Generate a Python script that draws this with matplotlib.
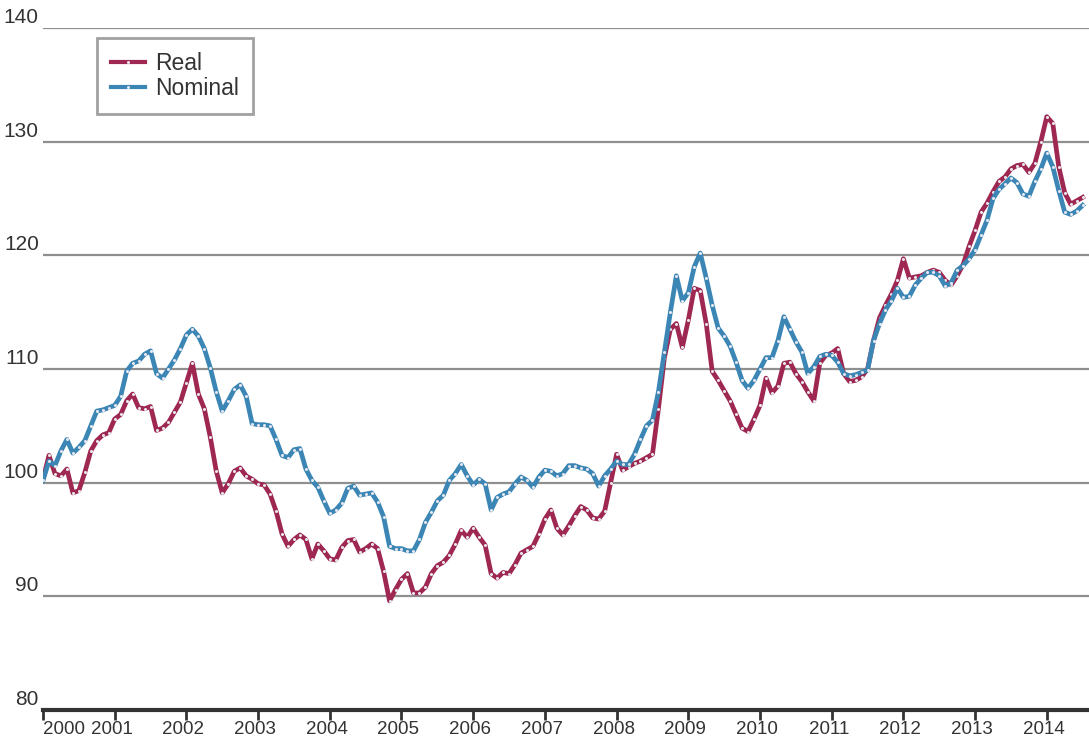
import numpy as np
import matplotlib
matplotlib.use("Agg")
import matplotlib.pyplot as plt
import matplotlib.transforms as mtransforms

plt.rcParams["font.family"] = ["Liberation Sans", "DejaVu Sans"]

# monthly index values, Jan 2000 .. Jul 2014
real = [
    100.3, 102.4, 100.8, 100.6, 101.2, 99.1, 99.3, 100.9, 102.8, 103.7,
    104.2, 104.4, 105.6, 106.0, 107.2, 107.8, 106.6, 106.5, 106.7, 104.6,
    104.8, 105.3, 106.2, 107.1, 108.8, 110.5, 107.8, 106.5, 104.0, 101.0,
    99.1, 99.9, 101.0, 101.3, 100.6, 100.3, 99.9, 99.8, 99.0, 97.5,
    95.5, 94.4, 95.0, 95.4, 95.0, 93.3, 94.6, 94.0, 93.3, 93.2,
    94.3, 94.9, 95.0, 93.9, 94.2, 94.6, 94.2, 92.2, 89.6, 90.6,
    91.5, 92.0, 90.3, 90.3, 90.8, 92.0, 92.7, 93.0, 93.6, 94.6,
    95.8, 95.2, 96.0, 95.2, 94.5, 92.0, 91.6, 92.1, 92.0, 92.8,
    93.8, 94.1, 94.4, 95.5, 96.8, 97.6, 96.0, 95.4, 96.2, 97.1,
    97.9, 97.6, 96.9, 96.8, 97.5, 100.0, 102.5, 101.1, 101.4, 101.7,
    101.9, 102.2, 102.5, 106.5, 111.0, 113.5, 114.0, 111.9, 114.3, 117.1,
    116.9, 114.0, 109.8, 109.0, 108.1, 107.2, 106.0, 104.8, 104.5, 105.6,
    106.8, 109.2, 107.9, 108.5, 110.5, 110.6, 109.6, 108.9, 108.0, 107.2,
    110.5, 111.2, 111.4, 111.8, 109.6, 108.9, 109.0, 109.3, 110.0, 112.5,
    114.5, 115.6, 116.6, 117.8, 119.7, 118.0, 118.1, 118.2, 118.5, 118.7,
    118.5, 117.8, 117.4, 118.2, 119.2, 120.8, 122.2, 123.8, 124.6, 125.6,
    126.5, 126.9, 127.6, 127.9, 128.0, 127.3, 128.1, 130.0, 132.2, 131.6,
    127.8, 125.5, 124.5, 124.8, 125.1,
]
nominal = [
    100.2, 101.9, 101.5, 102.8, 103.8, 102.6, 103.1, 103.7, 105.0, 106.3,
    106.4, 106.6, 106.8, 107.6, 109.8, 110.5, 110.7, 111.3, 111.6, 109.6,
    109.2, 110.0, 110.8, 111.8, 113.0, 113.5, 112.9, 111.8, 110.1, 108.0,
    106.3, 107.2, 108.2, 108.6, 107.6, 105.2, 105.1, 105.1, 105.0, 103.8,
    102.4, 102.2, 102.9, 103.0, 101.2, 100.2, 99.6, 98.4, 97.3, 97.6,
    98.2, 99.5, 99.7, 98.9, 99.0, 99.1, 98.3, 97.0, 94.4, 94.2,
    94.2, 94.0, 94.0, 95.0, 96.5, 97.4, 98.4, 98.9, 100.2, 100.8,
    101.6, 100.6, 99.8, 100.3, 99.9, 97.6, 98.7, 99.0, 99.2, 99.9,
    100.5, 100.2, 99.6, 100.5, 101.1, 101.0, 100.6, 100.8, 101.5, 101.5,
    101.3, 101.2, 100.8, 99.7, 100.6, 101.2, 101.9, 101.6, 101.6, 102.5,
    103.8, 105.0, 105.5, 108.0, 111.5, 115.0, 118.2, 116.0, 116.7, 119.0,
    120.2, 118.0, 115.6, 113.6, 112.9, 112.0, 110.6, 109.0, 108.3, 109.0,
    110.0, 111.0, 111.0, 112.5, 114.6, 113.5, 112.4, 111.5, 109.6, 110.2,
    111.1, 111.3, 111.2, 110.6, 109.6, 109.4, 109.5, 109.7, 109.9, 112.5,
    114.0, 115.2, 116.0, 117.1, 116.3, 116.4, 117.4, 118.0, 118.5, 118.5,
    118.2, 117.3, 117.6, 118.7, 119.1, 119.7, 120.5, 121.8, 123.1, 125.0,
    125.8, 126.3, 126.8, 126.4, 125.4, 125.2, 126.5, 127.6, 129.0, 127.8,
    125.7, 123.8, 123.6, 123.9, 124.4,
]
years = list(range(2000, 2015))
yticks = [80, 90, 100, 110, 120, 130, 140]

REAL_COLOR = "#9E2851"
NOM_COLOR = "#3C86B6"
TEXT = "#333333"

t = 2000 + np.arange(len(real)) / 12.0

fig = plt.figure(figsize=(10.89, 7.40), dpi=100)
ax = fig.add_axes([43 / 1089, 1 - 710 / 740, 1 - 43 / 1089, 682 / 740])

for v in yticks[1:]:
    ax.axhline(v, color="#8f8f8f", lw=1.6, zorder=1)

style = dict(lw=3.4, marker="o", markersize=2.2, markerfacecolor="#e6e6ee",
             markeredgecolor="none", zorder=3)
ax.plot(t, real, color=REAL_COLOR, label="Real", **style)
ax.plot(t, nominal, color=NOM_COLOR, label="Nominal", **style)

ax.set_xlim(2000, 2000 + 1046 / 71.7)
ax.set_ylim(80, 140)

for s in ["top", "right", "left"]:
    ax.spines[s].set_visible(False)
ax.spines["bottom"].set_color(TEXT)
ax.spines["bottom"].set_linewidth(3)

ax.set_xticks(years)
ax.set_xticklabels([str(y) for y in years], fontsize=13.5, color=TEXT)
ax.tick_params(axis="x", length=7, width=2, color=TEXT, pad=1)
ax.get_xticklabels()[0].set_ha("left")
for lab in ax.get_xticklabels()[1:]:
    lab.set_transform(lab.get_transform() + mtransforms.ScaledTranslation(-3 / 100, 0, fig.dpi_scale_trans))

ax.set_yticks(yticks)
ax.set_yticklabels([str(v) for v in yticks], fontsize=15, color=TEXT)
ax.tick_params(axis="y", length=0, pad=3)
for lab in ax.get_yticklabels():
    lab.set_va("bottom")
    lab.set_transform(lab.get_transform() + mtransforms.ScaledTranslation(0, 1 / 100, fig.dpi_scale_trans))

leg = ax.legend(loc="upper left", bbox_to_anchor=(54 / 1046, 1 - 10 / 682), borderaxespad=0,
                fontsize=16.5, frameon=True, fancybox=False, handlelength=1.5,
                handletextpad=0.45, borderpad=0.6, labelspacing=0.1)
leg.get_frame().set_edgecolor("#8a8a8a")
leg.get_frame().set_linewidth(2)
for line in leg.get_lines():
    line.set_linewidth(3)
for txt in leg.get_texts():
    txt.set_color(TEXT)

fig.savefig("out.png", dpi=100)
